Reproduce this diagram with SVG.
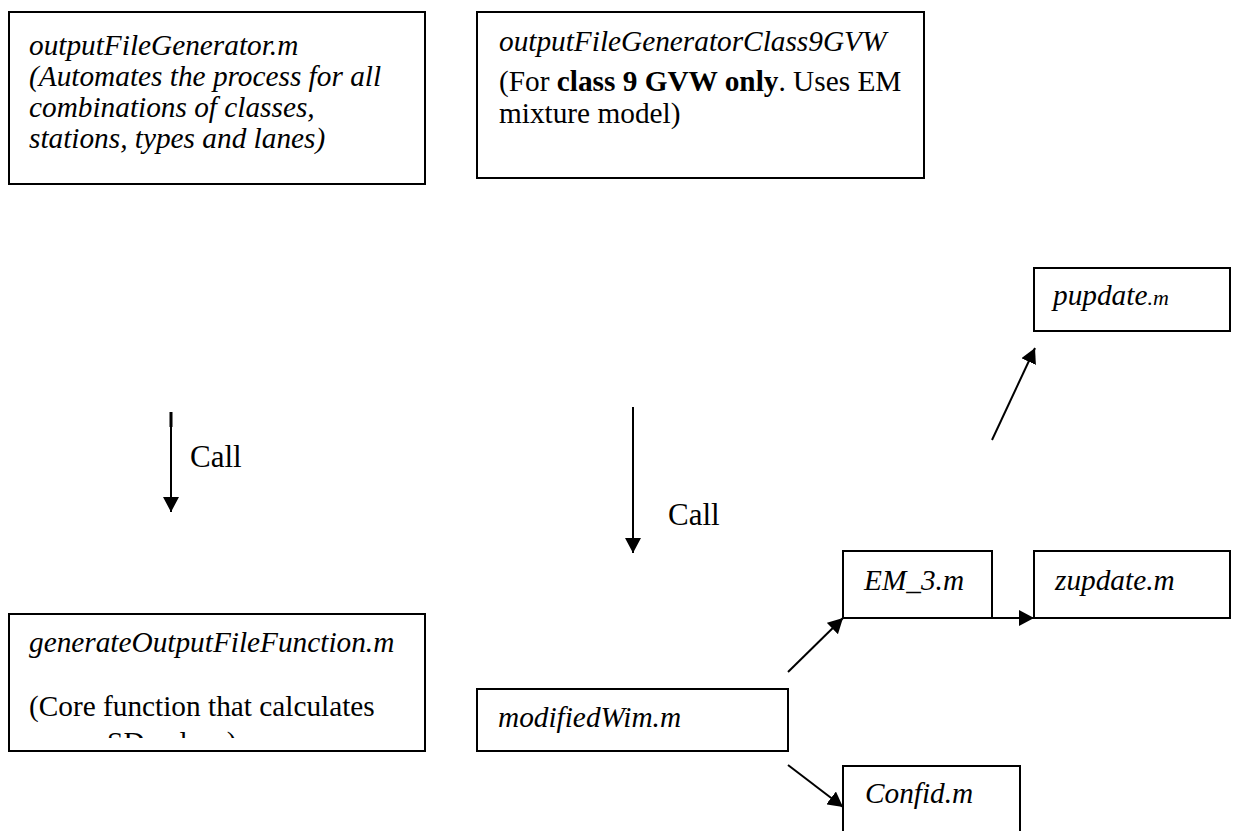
<svg xmlns="http://www.w3.org/2000/svg" width="1233" height="831" viewBox="0 0 1233 831">
  <style>
    .box { fill: #fff; stroke: #000; stroke-width: 2; }
    .t { font-family: "Liberation Serif", "Times New Roman", serif; font-size: 29.3px; fill: #000; }
    .i { font-style: italic; }
    .b { font-weight: bold; }
    .call { font-family: "Liberation Serif", "Times New Roman", serif; font-size: 31px; fill: #000; }
    .edge { stroke: #000; stroke-width: 2; fill: none; marker-end: url(#arrow); }
  </style>
  <defs>
    <marker id="arrow" markerUnits="userSpaceOnUse" markerWidth="16" markerHeight="16" refX="15" refY="8" orient="auto">
      <path d="M0,0 L15,8 L0,16 z" fill="#000"/>
    </marker>
    <!-- inner area of the text box: the overflowing last line is cut off here -->
    <clipPath id="genClip">
      <rect x="10" y="615" width="414" height="123"/>
    </clipPath>
  </defs>
  <rect width="1233" height="831" fill="#fff"/>

  <g id="outputFileGenerator">
    <rect class="box" x="9" y="12" width="416" height="172"/>
    <text class="t i" x="29" y="55">outputFileGenerator.m</text>
    <text class="t i" x="29" y="86">(Automates the process for all</text>
    <text class="t i" x="29" y="117">combinations of classes,</text>
    <text class="t i" x="29" y="148">stations, types and lanes)</text>
  </g>

  <g id="outputFileGeneratorClass9GVW">
    <rect class="box" x="477" y="12" width="447" height="166"/>
    <text class="t i" x="499" y="51">outputFileGeneratorClass9GVW</text>
    <text class="t" x="499" y="91">(For <tspan class="b">class 9 GVW only</tspan>. Uses EM</text>
    <text class="t" x="499" y="123">mixture model)</text>
  </g>

  <g id="pupdate">
    <rect class="box" x="1034" y="268" width="196" height="63"/>
    <text class="t i" x="1053" y="305">pupdate<tspan style="font-size:22px">.m</tspan></text>
  </g>

  <g id="generateOutputFileFunction">
    <rect class="box" x="9" y="614" width="416" height="137"/>
    <text class="t i" x="29" y="652">generateOutputFileFunction.m</text>
    <text class="t" x="29" y="716">(Core function that calculates</text>
    <text class="t" x="29" y="752" clip-path="url(#genClip)">mean, SD values)</text>
  </g>

  <g id="modifiedWim">
    <rect class="box" x="477" y="689" width="311" height="62"/>
    <text class="t i" x="498" y="727">modifiedWim.m</text>
  </g>

  <g id="EM_3">
    <rect class="box" x="843" y="551" width="149" height="67"/>
    <text class="t i" x="864" y="590">EM_3.m</text>
  </g>

  <g id="zupdate">
    <rect class="box" x="1034" y="551" width="196" height="67"/>
    <text class="t i" x="1055" y="590">zupdate.m</text>
  </g>

  <g id="Confid">
    <rect class="box" x="843" y="766" width="177" height="80"/>
    <text class="t i" x="865" y="803">Confid.m</text>
  </g>

  <g id="connectors">
    <rect x="169.5" y="412" width="3" height="15" fill="#000"/>
    <line class="edge" x1="171" y1="413" x2="171" y2="512"/>
    <text class="call" x="190" y="467">Call</text>
    <line class="edge" x1="633" y1="407" x2="633" y2="553"/>
    <text class="call" x="668" y="525">Call</text>
    <line class="edge" x1="788" y1="672" x2="843" y2="618"/>
    <line class="edge" x1="788" y1="765" x2="843" y2="807"/>
    <line class="edge" x1="992" y1="618" x2="1034" y2="618"/>
    <line class="edge" x1="992" y1="440" x2="1035" y2="348"/>
  </g>
</svg>
